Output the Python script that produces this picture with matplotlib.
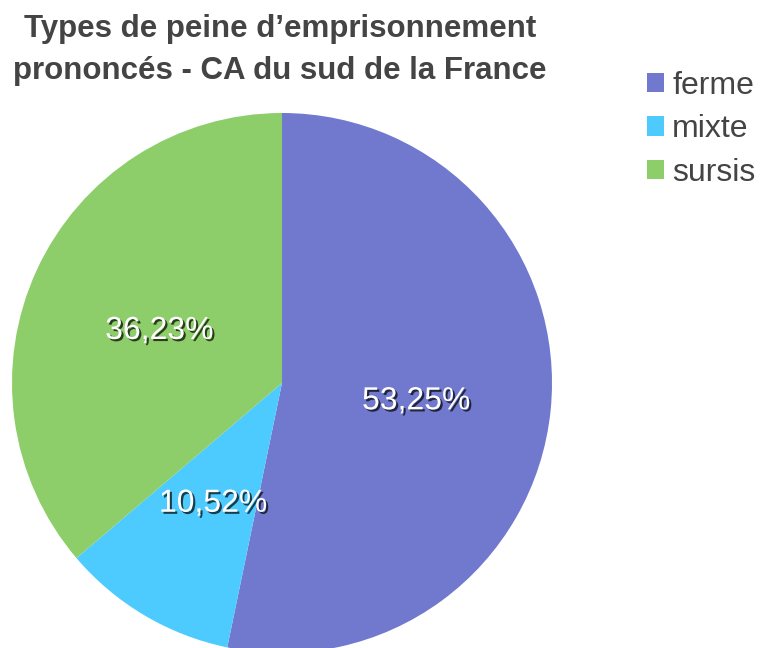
import matplotlib
matplotlib.use("Agg")
import matplotlib.pyplot as plt
import matplotlib.patheffects as pe
from matplotlib.patches import Patch

categories = ["ferme", "mixte", "sursis"]
values = [53.25, 10.52, 36.23]
colors = ["#7079CD", "#4DCBFE", "#8ECE6A"]
title = "Types de peine d\u2019emprisonnement\nprononcés - CA du sud de la France"

plt.rcParams['font.family'] = ['Liberation Sans', 'DejaVu Sans']

fig = plt.figure(figsize=(7.6, 6.48), dpi=100)
ax = fig.add_axes([12/760, (648-653)/648, 540/760, 540/648])
wedges, texts, autotexts = ax.pie(
    values, colors=colors, startangle=90, counterclock=False,
    autopct=lambda p: f"{p:.2f}".replace(".", ",") + "%",
    pctdistance=0.5, radius=1.0,
    wedgeprops=dict(linewidth=0),
    textprops=dict(color="white", fontsize=23))
for t in autotexts:
    x, y = t.get_position()
    t.set_position((x, y - 0.017))
    t.set_path_effects([pe.SimplePatchShadow(offset=(1.5, -1.5), shadow_rgbFace="black", alpha=0.7), pe.Normal()])
ax.set_xlim(-1, 1)
ax.set_ylim(-1, 1)
ax.set_aspect("equal")
ax.axis("off")

fig.text(280/760, 1 - 50/648, title, ha="center", va="center", fontsize=22.5,
         fontweight="bold", color="#444444", linespacing=1.5)

handles = [Patch(facecolor=c, edgecolor="none") for c in colors]
leg = fig.legend(handles, categories, loc="upper left", bbox_to_anchor=(634/760, 1 - 58/648),
                 frameon=False, fontsize=23, handlelength=0.55, handleheight=0.55,
                 handletextpad=0.25, labelspacing=0.42, borderaxespad=0)
for t in leg.get_texts():
    t.set_color("#444444")

fig.savefig("out.png", dpi=100)
